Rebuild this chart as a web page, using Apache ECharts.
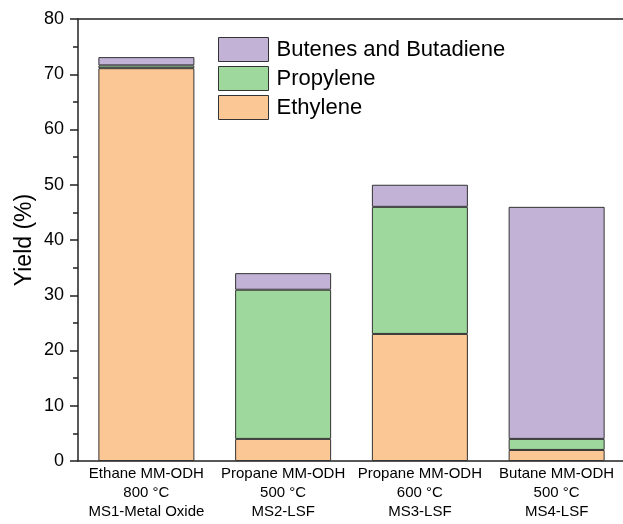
<!DOCTYPE html>
<html>
<head>
<meta charset="utf-8">
<script src="https://cdn.jsdelivr.net/npm/echarts@6/dist/echarts.min.js"></script>
<style>
html,body{margin:0;padding:0;background:#fff;}
#chart{width:623px;height:524px;}
</style>
</head>
<body>
<div id="chart"></div>
<script>
const categories = [
  'Ethane MM-ODH\n800 °C\nMS1-Metal Oxide',
  'Propane MM-ODH\n500 °C\nMS2-LSF',
  'Propane MM-ODH\n600 °C\nMS3-LSF',
  'Butane MM-ODH\n500 °C\nMS4-LSF'
];
const ethylene = [71.1, 4, 23, 2];
const propylene = [0.5, 27, 23, 2];
const butenes = [1.5, 3, 4, 42];
const yTicks = [0, 10, 20, 30, 40, 50, 60, 70, 80];

const FONT = '"Liberation Sans", Arial, sans-serif';
const chart = echarts.init(document.getElementById('chart'), null, {renderer: 'canvas'});

function bar(name, data, color) {
  return {
    name: name,
    type: 'bar',
    stack: 'total',
    data: data,
    barWidth: 96,
    itemStyle: {color: color, borderColor: '#333', borderWidth: 1},
    emphasis: {disabled: true}
  };
}

chart.setOption({
  animation: false,
  textStyle: {fontFamily: FONT},
  grid: {
    left: 78, top: 19, width: 547, height: 442,
    containLabel: false,
    outerBoundsMode: 'none',
    show: false
  },
  legend: {
    orient: 'vertical',
    left: 213, top: 32,
    itemWidth: 50, itemHeight: 24, itemGap: 4,
    icon: 'rect',
    data: ['Butenes and Butadiene', 'Propylene', 'Ethylene'],
    itemStyle: {borderColor: '#333', borderWidth: 1},
    textStyle: {fontSize: 22, color: '#000', fontFamily: FONT, padding: [0, 0, 0, 3]}
  },
  xAxis: [{
    type: 'category',
    data: categories,
    axisLine: {lineStyle: {color: '#222', width: 1.5}},
    axisTick: {show: false},
    axisLabel: {fontSize: 15, color: '#000', lineHeight: 19, margin: 3, interval: 0, fontFamily: FONT}
  }, {
    type: 'category',
    position: 'top',
    data: categories,
    axisLine: {show: true, lineStyle: {color: '#222', width: 1.5}},
    axisTick: {show: false},
    axisLabel: {show: false}
  }],
  yAxis: {
    type: 'value',
    min: yTicks[0], max: yTicks[yTicks.length - 1], interval: 10,
    name: 'Yield (%)',
    nameLocation: 'middle',
    nameGap: 42,
    nameMoveOverlap: false,
    nameTextStyle: {fontSize: 23, color: '#000', fontFamily: FONT},
    axisLine: {show: true, lineStyle: {color: '#222', width: 1.5}},
    axisTick: {show: true, inside: false, length: 8, lineStyle: {color: '#222', width: 1.5}},
    minorTick: {show: true, splitNumber: 2, length: 5, lineStyle: {color: '#222', width: 1.5}},
    splitLine: {show: false},
    axisLabel: {fontSize: 18, color: '#000', margin: 14, fontFamily: FONT}
  },
  series: [
    bar('Ethylene', ethylene, '#FAC795'),
    bar('Propylene', propylene, '#9FD89D'),
    bar('Butenes and Butadiene', butenes, '#C2B2D6')
  ]
});
</script>
</body>
</html>
